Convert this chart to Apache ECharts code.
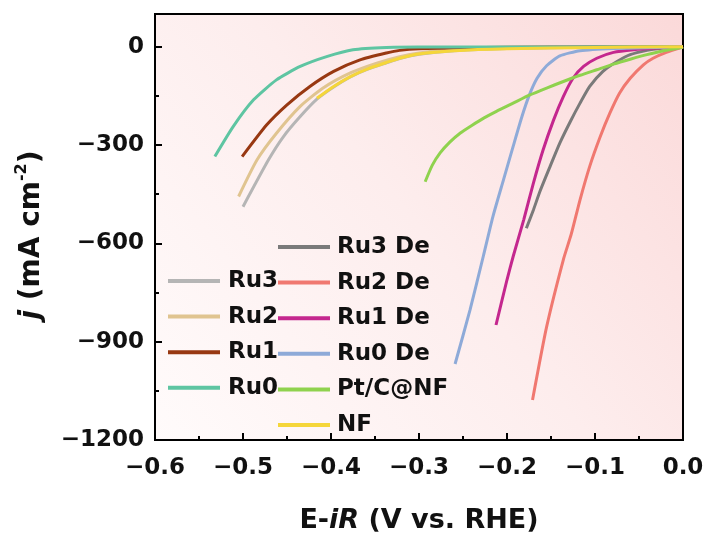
<!DOCTYPE html>
<html>
<head>
<meta charset="utf-8">
<script src="https://cdn.jsdelivr.net/npm/echarts@6/dist/echarts.min.js"></script>
<style>
  html, body { margin: 0; padding: 0; background: #ffffff; }
  #chart { width: 712px; height: 534px; }
</style>
</head>
<body>
<div id="chart"></div>
<script>
// Polarization curves (HER), potential in V vs. RHE, current density in mA cm^-2
const xTickValues = [-0.6, -0.5, -0.4, -0.3, -0.2, -0.1, 0.0];
const yTickValues = [-1200, -900, -600, -300, 0];

const legendLeft = ['Ru3', 'Ru2', 'Ru1', 'Ru0'];
const legendRight = ['Ru3 De', 'Ru2 De', 'Ru1 De', 'Ru0 De', 'Pt/C@NF', 'NF'];

const ru3 = [[-0.500, -488], [-0.471, -345], [-0.454, -274], [-0.435, -213], [-0.416, -160], [-0.397, -123], [-0.378, -92], [-0.359, -69], [-0.337, -49], [-0.322, -36], [-0.300, -23], [-0.260, -12], [-0.200, -5], [-0.100, -1], [0.000, 0]];
const ru2 = [[-0.505, -457], [-0.484, -345], [-0.462, -264], [-0.435, -182], [-0.409, -126], [-0.378, -80], [-0.348, -50], [-0.322, -30], [-0.300, -19], [-0.270, -10], [-0.220, -5], [-0.150, -2], [0.000, 0]];
const ru1 = [[-0.501, -335], [-0.473, -238], [-0.450, -177], [-0.424, -121], [-0.397, -75], [-0.367, -40], [-0.337, -19], [-0.322, -11], [-0.300, -6], [-0.250, -3], [-0.150, -1], [0.000, 0]];
const ru0 = [[-0.532, -335], [-0.511, -243], [-0.488, -162], [-0.462, -101], [-0.435, -60], [-0.405, -30], [-0.375, -9], [-0.337, -2], [-0.300, -1], [0.000, 0]];
const ru3De = [[-0.178, -554], [-0.170, -498], [-0.1625, -441], [-0.151, -365], [-0.140, -294], [-0.128, -228], [-0.117, -172], [-0.106, -121], [-0.091, -75], [-0.075, -45], [-0.060, -24], [-0.041, -11], [-0.026, -5], [0.000, 0]];
const ru2De = [[-0.171, -1078], [-0.155, -855], [-0.136, -650], [-0.127, -572], [-0.117, -467], [-0.106, -365], [-0.094, -274], [-0.083, -202], [-0.072, -141], [-0.060, -96], [-0.045, -55], [-0.034, -35], [-0.019, -17], [0.000, 0]];
const ru1De = [[-0.2125, -849], [-0.200, -711], [-0.193, -640], [-0.181, -528], [-0.170, -416], [-0.159, -315], [-0.147, -223], [-0.136, -152], [-0.125, -96], [-0.113, -60], [-0.098, -35], [-0.079, -17], [-0.056, -9], [-0.030, -4], [0.000, 0]];
const ru0De = [[-0.259, -968], [-0.242, -803], [-0.227, -640], [-0.216, -518], [-0.204, -406], [-0.193, -304], [-0.183, -213], [-0.175, -150], [-0.166, -97], [-0.155, -58], [-0.140, -28], [-0.117, -12], [-0.079, -5], [-0.041, -3], [0.000, 0]];
const ptcNF = [[-0.293, -412], [-0.285, -362], [-0.276, -324], [-0.265, -291], [-0.253, -263], [-0.240, -240], [-0.226, -217], [-0.212, -197], [-0.193, -172], [-0.174, -147], [-0.155, -126], [-0.136, -106], [-0.117, -87], [-0.098, -70], [-0.079, -53], [-0.060, -38], [-0.041, -24], [-0.022, -12], [-0.003, -3], [0.000, 0]];
const nf = [[-0.416, -157], [-0.397, -121], [-0.378, -91], [-0.359, -68], [-0.337, -48], [-0.322, -35], [-0.300, -22], [-0.260, -12], [-0.200, -6], [-0.100, -2], [0.000, 0]];

const FONT = 'DejaVu Sans';

const curves = [
  { name: 'Ru3', data: ru3, color: '#b5b5b5' },
  { name: 'Ru2', data: ru2, color: '#e0c490' },
  { name: 'Ru1', data: ru1, color: '#983812' },
  { name: 'Ru0', data: ru0, color: '#5ec5a2' },
  { name: 'Ru3 De', data: ru3De, color: '#7a7a7a' },
  { name: 'Ru2 De', data: ru2De, color: '#f07870' },
  { name: 'Ru1 De', data: ru1De, color: '#c4278e' },
  { name: 'Ru0 De', data: ru0De, color: '#8eaad8' },
  { name: 'Pt/C@NF', data: ptcNF, color: '#8fd24e' },
  { name: 'NF', data: nf, color: '#f5d63a' }
];

const minus = s => String(s).replace('-', '\u2212');

// plot area box (px) shared by the grid and its tinted backdrop
const PLOT = { left: 155, right: 29, top: 14, bottom: 94, width: 712, height: 534 };

const legendBlock = (items, left, top, gap) => ({
  data: items,
  left: left,
  top: top,
  orient: 'vertical',
  icon: 'rect',
  padding: 0,
  itemWidth: 52,
  itemHeight: 4,
  itemGap: 9.6,
  selectedMode: false,
  textStyle: {
    fontFamily: FONT, fontWeight: 'bold', fontSize: 23, color: '#111',
    lineHeight: 26, padding: [0, 0, 0, gap]
  }
});

// frame line and inward ticks for each axis
const axisParts = () => ({
  z: 5,
  axisLine: { show: true, onZero: false, lineStyle: { color: '#000', width: 2 } },
  axisTick: { show: true, inside: true, length: 7, lineStyle: { color: '#000', width: 2 } },
  minorTick: { show: true, splitNumber: 2, length: 4, lineStyle: { color: '#000', width: 2 } },
  splitLine: { show: false },
  minorSplitLine: { show: false }
});

const chart = echarts.init(document.getElementById('chart'), null, { renderer: 'canvas' });

chart.setOption({
  animation: false,
  backgroundColor: '#ffffff',
  // pink-to-white tint behind the plot area
  graphic: {
    elements: [{
      type: 'rect',
      z: -100,
      silent: true,
      shape: {
        x: PLOT.left, y: PLOT.top,
        width: PLOT.width - PLOT.left - PLOT.right,
        height: PLOT.height - PLOT.top - PLOT.bottom
      },
      style: {
        fill: new echarts.graphic.LinearGradient(1, 0, 0, 1, [
          { offset: 0, color: '#fbd9d9' },
          { offset: 0.5, color: '#fdeded' },
          { offset: 1, color: '#fffbfb' }
        ])
      }
    }]
  },
  grid: {
    left: PLOT.left, right: PLOT.right, top: PLOT.top, bottom: PLOT.bottom,
    outerBoundsMode: 'none',
    containLabel: false,
    show: true,
    backgroundColor: 'transparent',
    borderColor: '#000', borderWidth: 2
  },
  legend: [
    legendBlock(legendLeft, 168, 268, 3),
    legendBlock(legendRight, 278, 234, 2)
  ],
  xAxis: Object.assign(axisParts(), {
    type: 'value',
    min: -0.6, max: 0, interval: 0.1,
    axisLabel: {
      margin: 17, color: '#111', fontFamily: FONT, fontWeight: 'bold', fontSize: 23,
      formatter: v => minus(v.toFixed(1))
    },
    name: 'E-{it|iR} (V vs. RHE)',
    nameLocation: 'middle',
    nameGap: 67,
    nameTextStyle: {
      fontFamily: FONT, fontWeight: 'bold', fontSize: 27, color: '#111',
      rich: { it: { fontFamily: FONT, fontWeight: 'bold', fontStyle: 'italic', fontSize: 27, color: '#111' } }
    }
  }),
  yAxis: Object.assign(axisParts(), {
    type: 'value',
    min: -1200, max: 100, interval: 300,
    axisLabel: {
      margin: 11, color: '#111', fontFamily: FONT, fontWeight: 'bold', fontSize: 23,
      formatter: v => (v > 0 ? '' : minus(v))
    },
    name: '{it|j} (mA cm{sup|-2})',
    nameLocation: 'middle',
    nameRotate: 90,
    nameGap: 98,
    nameTextStyle: {
      fontFamily: FONT, fontWeight: 'bold', fontSize: 28, color: '#111', lineHeight: 36,
      padding: [0, 16, 0, 0],
      rich: {
        it: { fontFamily: FONT, fontWeight: 'bold', fontStyle: 'italic', fontSize: 28, color: '#111', lineHeight: 36 },
        sup: { fontFamily: FONT, fontWeight: 'bold', fontSize: 16, color: '#111', verticalAlign: 'top', lineHeight: 36 }
      }
    }
  }),
  series: curves.map(c => ({
    name: c.name,
    type: 'line',
    data: c.data,
    color: c.color,
    showSymbol: false,
    smooth: 0.2,
    lineStyle: { width: 3, color: c.color },
    itemStyle: { color: c.color }
  }))
});
</script>
</body>
</html>
